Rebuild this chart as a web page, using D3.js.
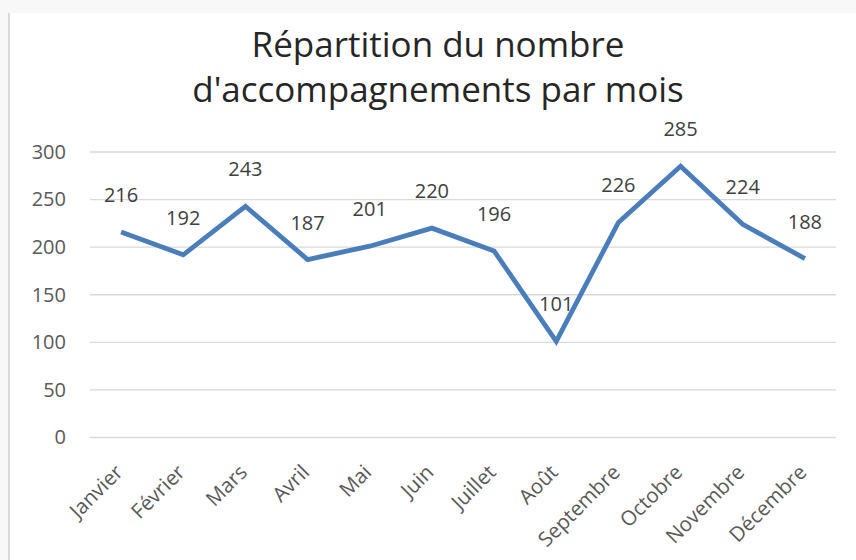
<!DOCTYPE html>
<html>
<head>
<meta charset="utf-8">
<script src="https://cdn.jsdelivr.net/npm/d3@7"></script>
<style>
  body { margin: 0; background: #f8f8f8; }
  #chart { position: absolute; left: 0; top: 0; }
</style>
</head>
<body>
<div id="chart"></div>
<script>
// data
const mois = ["Janvier", "Février", "Mars", "Avril", "Mai", "Juin", "Juillet",
              "Août", "Septembre", "Octobre", "Novembre", "Décembre"];
const accompagnements = [216, 192, 243, 187, 201, 220, 196, 101, 226, 285, 224, 188];
const yTicks = [0, 50, 100, 150, 200, 250, 300];
const titre = ["Répartition du nombre", "d'accompagnements par mois"];

const W = 856, H = 560;
const margin = { top: 152, right: 20, bottom: 122.5, left: 90 };
const plotW = 836 - margin.left;
const plotH = 437.5 - margin.top;

const svg = d3.select("#chart")
  .append("svg")
  .attr("width", W)
  .attr("height", H);

// chart panel (white) with grey border on the left
svg.append("rect")
  .attr("x", 8).attr("y", 13)
  .attr("width", W - 8).attr("height", H - 13)
  .attr("fill", "white");
svg.append("line")
  .attr("x1", 9).attr("x2", 9)
  .attr("y1", 13).attr("y2", H)
  .attr("stroke", "#d9d9d9")
  .attr("stroke-width", 2);

const g = svg.append("g")
  .attr("transform", "translate(" + margin.left + "," + margin.top + ")");

const x = d3.scaleBand()
  .domain(mois)
  .range([0, plotW]);

const y = d3.scaleLinear()
  .domain([0, 300])
  .range([plotH, 0]);

// gridlines
g.selectAll("line.grid")
  .data(yTicks)
  .enter().append("line")
  .attr("class", "grid")
  .attr("x1", 0).attr("x2", plotW)
  .attr("y1", d => y(d)).attr("y2", d => y(d))
  .attr("stroke", "#d9d9d9")
  .attr("stroke-width", 1.3);

// y axis labels
const yAxis = g.append("g")
  .call(d3.axisLeft(y).tickValues(yTicks).tickSize(0).tickPadding(24));
yAxis.select(".domain").remove();
yAxis.selectAll("text")
  .attr("fill", "#595959")
  .style("font-family", "'Open Sans', sans-serif")
  .style("font-size", "20px");

// x axis labels, rotated
const xAxis = g.append("g")
  .attr("transform", "translate(0," + plotH + ")")
  .call(d3.axisBottom(x).tickSize(0).tickPadding(0));
xAxis.select(".domain").remove();
xAxis.selectAll("text")
  .attr("fill", "#595959")
  .style("font-family", "'Open Sans', sans-serif")
  .style("font-size", "20.5px")
  .attr("text-anchor", "end")
  .attr("dy", null)
  .attr("transform", "translate(3,36) rotate(-45)");

// line
const line = d3.line()
  .x((d, i) => x(mois[i]) + x.bandwidth() / 2)
  .y(d => y(d));

g.append("path")
  .datum(accompagnements)
  .attr("d", line)
  .attr("fill", "none")
  .attr("stroke", "#4a7ebb")
  .attr("stroke-width", 4.8)
  .attr("stroke-linejoin", "miter")
  .attr("stroke-linecap", "butt");

// data labels
g.selectAll("text.label")
  .data(accompagnements)
  .enter().append("text")
  .attr("class", "label")
  .attr("x", (d, i) => x(mois[i]) + x.bandwidth() / 2)
  .attr("y", d => y(d) - 30)
  .attr("text-anchor", "middle")
  .attr("fill", "#404040")
  .style("font-family", "'Open Sans', sans-serif")
  .style("font-size", "20px")
  .text(d => d);

// title
svg.selectAll("text.title")
  .data(titre)
  .enter().append("text")
  .attr("class", "title")
  .attr("x", 438)
  .attr("y", (d, i) => 57 + i * 45)
  .attr("text-anchor", "middle")
  .attr("fill", "#262626")
  .style("font-family", "'Open Sans', sans-serif")
  .style("font-size", "35px")
  .text(d => d);
</script>
</body>
</html>
